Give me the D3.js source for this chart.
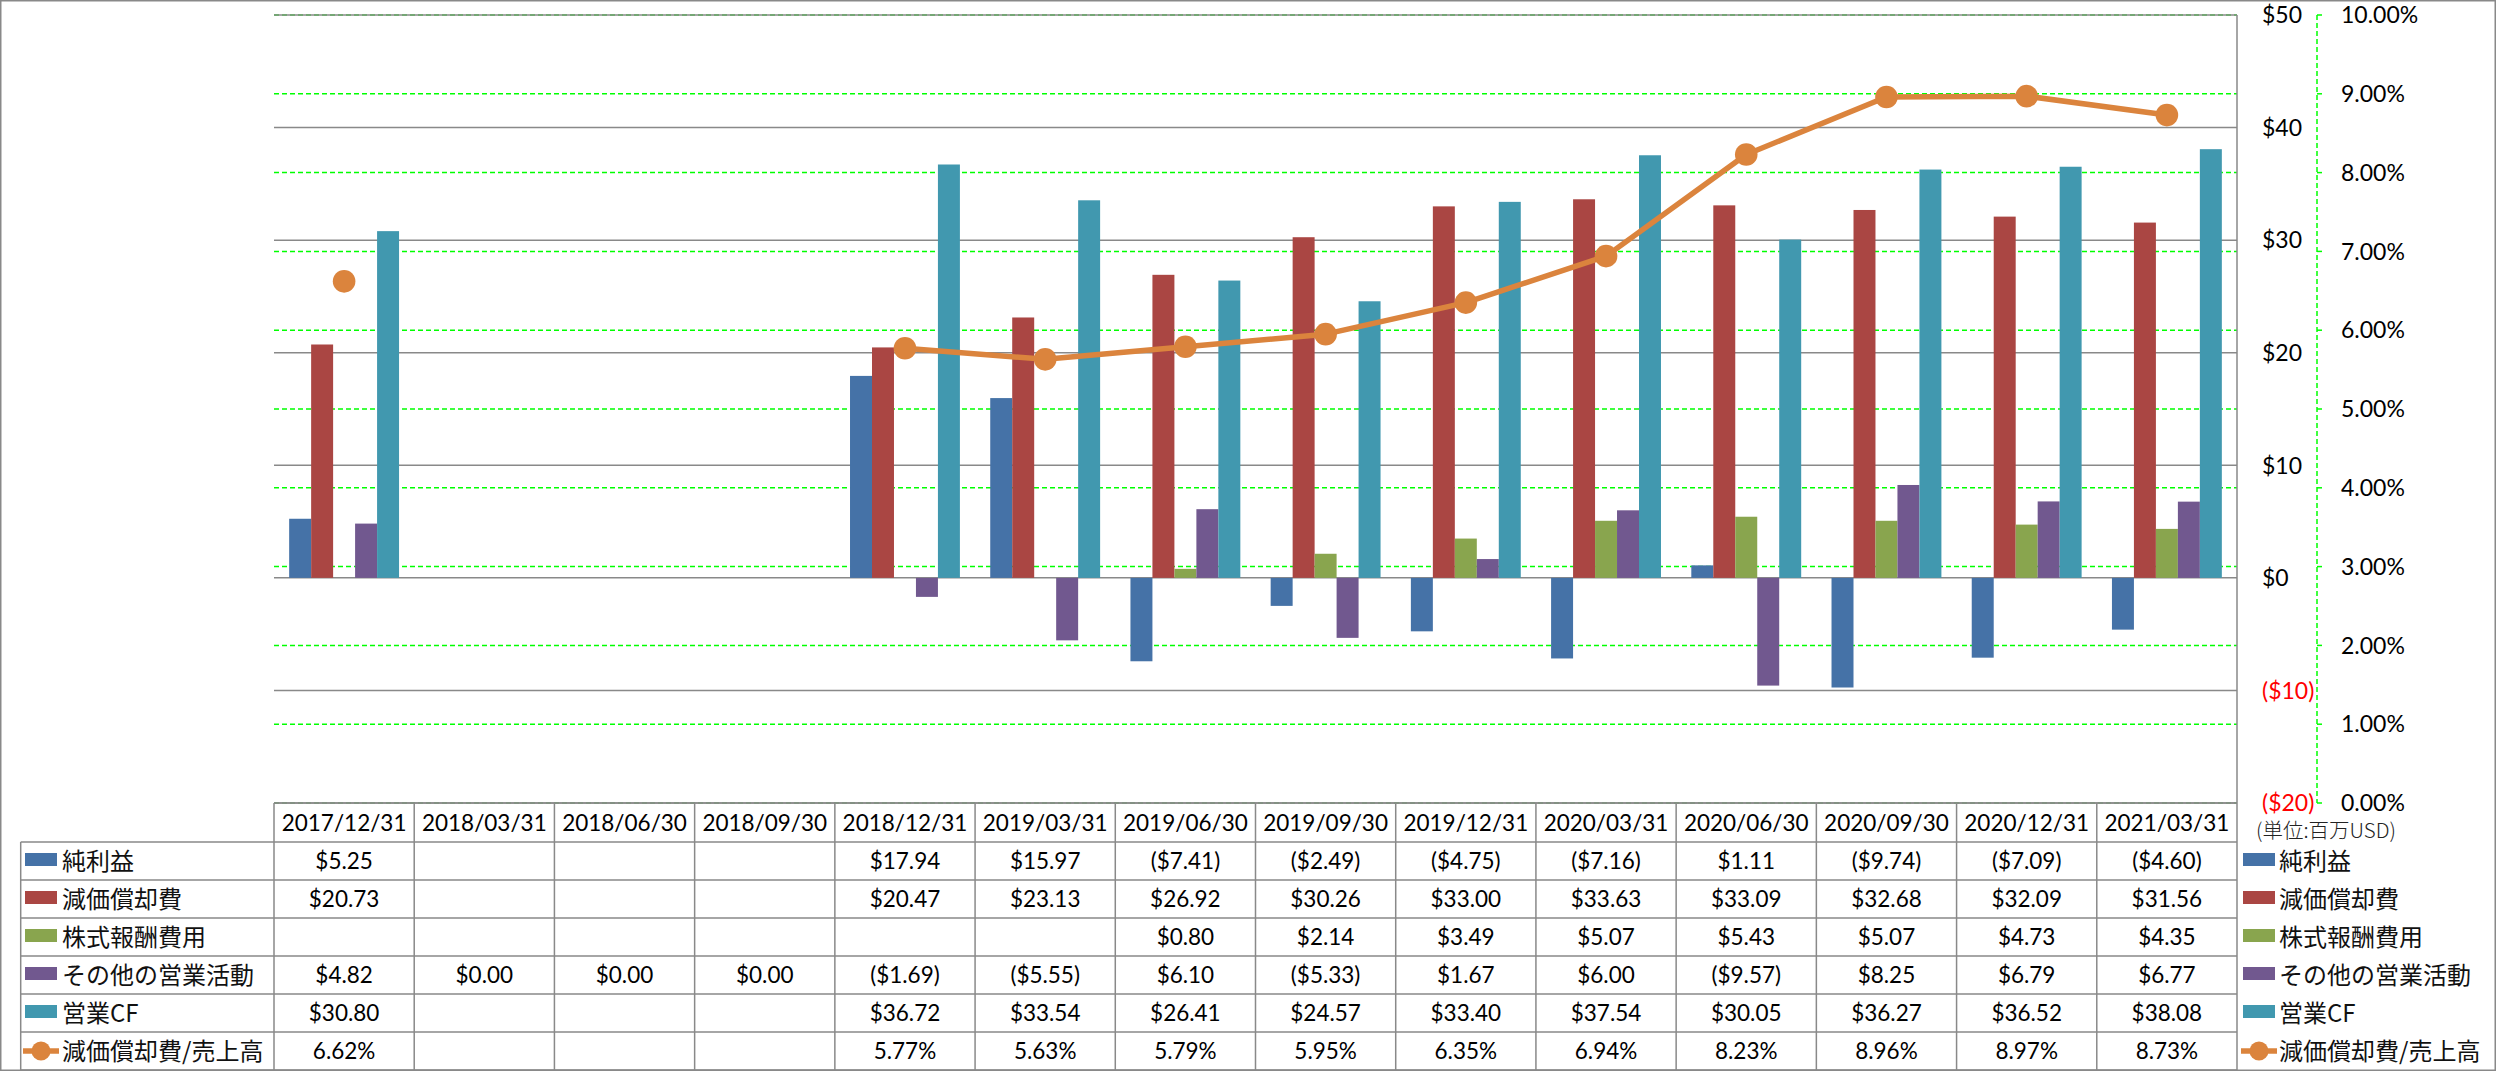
<!DOCTYPE html>
<html><head><meta charset="utf-8">
<script src="https://cdn.jsdelivr.net/npm/d3@7"></script>
<style>
html,body{margin:0;padding:0;background:#fff;}
svg{display:block;}
</style></head><body>
<svg id="chart" width="2496" height="1071"></svg>
<script>
// ---------------- data ----------------
const categories = ["2017/12/31","2018/03/31","2018/06/30","2018/09/30","2018/12/31","2019/03/31","2019/06/30","2019/09/30","2019/12/31","2020/03/31","2020/06/30","2020/09/30","2020/12/31","2021/03/31"];
const seriesNames = ["純利益","減価償却費","株式報酬費用","その他の営業活動","営業CF"];
const netIncome    = [5.25, null, null, null, 17.94, 15.97, -7.41, -2.49, -4.75, -7.16, 1.11, -9.74, -7.09, -4.60];
const depreciation = [20.73, null, null, null, 20.47, 23.13, 26.92, 30.26, 33.00, 33.63, 33.09, 32.68, 32.09, 31.56];
const stockComp    = [null, null, null, null, null, null, 0.80, 2.14, 3.49, 5.07, 5.43, 5.07, 4.73, 4.35];
const otherOps     = [4.82, 0.00, 0.00, 0.00, -1.69, -5.55, 6.10, -5.33, 1.67, 6.00, -9.57, 8.25, 6.79, 6.77];
const operatingCF  = [30.80, null, null, null, 36.72, 33.54, 26.41, 24.57, 33.40, 37.54, 30.05, 36.27, 36.52, 38.08];
const lineName = "減価償却費/売上高";
const depRatio     = [6.62, null, null, null, 5.77, 5.63, 5.79, 5.95, 6.35, 6.94, 8.23, 8.96, 8.97, 8.73];
const dollarTicks  = [50, 40, 30, 20, 10, 0, -10, -20];
const percentTicks = [10, 9, 8, 7, 6, 5, 4, 3, 2, 1, 0];
const unitLabel = "(単位:百万USD)";

const barSeries = [netIncome, depreciation, stockComp, otherOps, operatingCF];
const colors = ["#4572A7", "#AA4643", "#89A54E", "#71588F", "#4198AF"];
const lineColor = "#DB843D";
const gridGray = "#898989";
const numFont = "Lato, 'Liberation Sans', sans-serif";
const jpFont = "'Noto Sans CJK JP', sans-serif";

// ---------------- layout ----------------
const svg = d3.select("#chart");
const plotL = 274, plotR = 2237, plotT = 15, plotB = 803;
const y = d3.scaleLinear().domain([-20, 50]).range([plotB, plotT]);
const yP = d3.scaleLinear().domain([0, 10]).range([plotB, plotT]);
const x0 = d3.scaleBand().domain(categories).range([plotL, plotR]).padding(0);
const x1 = d3.scaleBand().domain(seriesNames).range([0, x0.bandwidth()]).paddingInner(0).paddingOuter(0.69);

svg.append("rect").attr("x", 0).attr("y", 0).attr("width", 2496).attr("height", 1071).attr("fill", "#fff");

// percent gridlines (green dashed)
svg.append("g").selectAll("line").data(percentTicks).join("line")
  .attr("x1", plotL).attr("x2", plotR)
  .attr("y1", d => yP(d)).attr("y2", d => yP(d))
  .attr("stroke", "#00FF00").attr("stroke-width", 1.5).attr("stroke-dasharray", "5,3");

// dollar gridlines (gray solid)
svg.append("g").selectAll("line").data(dollarTicks).join("line")
  .attr("x1", plotL).attr("x2", plotR)
  .attr("y1", d => y(d)).attr("y2", d => y(d))
  .attr("stroke", gridGray).attr("stroke-width", 1.5);

// bars
const barG = svg.append("g");
barSeries.forEach((vals, si) => {
  barG.append("g").selectAll("rect")
    .data(vals.map((v, i) => ({v, c: categories[i]})).filter(d => d.v != null && d.v !== 0))
    .join("rect")
    .attr("x", d => x0(d.c) + x1(seriesNames[si]))
    .attr("width", x1.bandwidth())
    .attr("y", d => y(Math.max(0, d.v)))
    .attr("height", d => Math.abs(y(d.v) - y(0)))
    .attr("fill", colors[si]);
});

// line series
const pts = depRatio.map((v, i) => ({v, c: categories[i]}));
const line = d3.line().defined(d => d.v != null)
  .x(d => x0(d.c) + x0.bandwidth() / 2).y(d => yP(d.v));
svg.append("path").datum(pts).attr("d", line)
  .attr("fill", "none").attr("stroke", lineColor).attr("stroke-width", 5.5).attr("stroke-linejoin", "round");
svg.append("g").selectAll("circle").data(pts.filter(d => d.v != null)).join("circle")
  .attr("cx", d => x0(d.c) + x0.bandwidth() / 2).attr("cy", d => yP(d.v)).attr("r", 11.3)
  .attr("fill", lineColor);

// dollar axis (right side, labels)
svg.append("line").attr("x1", plotR).attr("x2", plotR).attr("y1", plotT).attr("y2", 1070)
  .attr("stroke", gridGray).attr("stroke-width", 1.5);
svg.append("g").selectAll("text").data(dollarTicks).join("text")
  .attr("x", 2262).attr("y", d => y(d)).attr("dy", "0.36em")
  .attr("font-family", numFont).attr("font-size", 23)
  .attr("fill", d => d < 0 ? "#FF0000" : "#000")
  .text(d => d < 0 ? "($" + (-d) + ")" : "$" + d);

// percent axis
const axP = 2317;
svg.append("line").attr("x1", axP).attr("x2", axP).attr("y1", plotT).attr("y2", plotB)
  .attr("stroke", "#00FF00").attr("stroke-width", 1.5).attr("stroke-dasharray", "5,3");
svg.append("g").selectAll("line").data(percentTicks).join("line")
  .attr("x1", axP).attr("x2", axP + 8).attr("y1", d => yP(d)).attr("y2", d => yP(d))
  .attr("stroke", "#00FF00").attr("stroke-width", 1.5).attr("stroke-dasharray", "5,3");
svg.append("g").selectAll("text").data(percentTicks).join("text")
  .attr("x", 2341).attr("y", d => yP(d)).attr("dy", "0.36em")
  .attr("font-family", numFont).attr("font-size", 23).attr("fill", "#000")
  .text(d => d3.format(".2f")(d) + "%");

svg.append("text").attr("x", 2256).attr("y", 831).attr("dy", "0.36em")
  .attr("font-family", jpFont).attr("font-size", 20.5).attr("font-weight", 300).attr("fill", "#222")
  .text(unitLabel);

// ---------------- data table ----------------
const headTop = 803, rowTop = 842, rowH = 38, tableL = 20.7;
const rowYs = d3.range(7).map(i => rowTop + i * rowH);
const tbl = svg.append("g");
// horizontal lines
tbl.append("line").attr("x1", plotL).attr("x2", plotR).attr("y1", headTop).attr("y2", headTop)
  .attr("stroke", gridGray).attr("stroke-width", 1.5);
tbl.selectAll("line.h").data(rowYs).join("line").attr("class", "h")
  .attr("x1", tableL).attr("x2", plotR).attr("y1", d => d).attr("y2", d => d)
  .attr("stroke", gridGray).attr("stroke-width", 1.5);
// vertical lines
tbl.selectAll("line.v").data(categories).join("line").attr("class", "v")
  .attr("x1", d => x0(d)).attr("x2", d => x0(d)).attr("y1", headTop).attr("y2", 1070)
  .attr("stroke", gridGray).attr("stroke-width", 1.5);
tbl.append("line").attr("x1", tableL).attr("x2", tableL).attr("y1", rowTop).attr("y2", 1070)
  .attr("stroke", gridGray).attr("stroke-width", 1.5);

// header
tbl.append("g").selectAll("text").data(categories).join("text")
  .attr("x", d => x0(d) + x0.bandwidth() / 2).attr("y", (headTop + rowTop) / 2).attr("dy", "0.36em")
  .attr("text-anchor", "middle").attr("font-family", numFont).attr("font-size", 22.5).attr("fill", "#000")
  .text(d => d);

const fmtD = v => v == null ? "" : (v < 0 ? "($" + (-v).toFixed(2) + ")" : "$" + v.toFixed(2));
const fmtP = v => v == null ? "" : v.toFixed(2) + "%";
const tableRows = barSeries.map((vals, i) => ({vals, fmt: fmtD})).concat([{vals: depRatio, fmt: fmtP}]);
tableRows.forEach((r, ri) => {
  const cy = rowTop + ri * rowH + rowH / 2;
  tbl.append("g").selectAll("text").data(r.vals.map((v, i) => ({v, c: categories[i]}))).join("text")
    .attr("x", d => x0(d.c) + x0.bandwidth() / 2).attr("y", cy).attr("dy", "0.36em")
    .attr("text-anchor", "middle").attr("font-family", numFont).attr("font-size", 22.5).attr("fill", "#000")
    .text(d => r.fmt(d.v));
});

// legend keys (table left and right)
const legendNames = seriesNames.concat([lineName]);
function drawLegend(g, swX, txtX) {
  legendNames.forEach((name, i) => {
    const cy = rowTop + i * rowH + rowH / 2;
    if (i < 5) {
      g.append("rect").attr("x", swX).attr("y", cy - 8).attr("width", 32).attr("height", 13).attr("fill", colors[i]);
    } else {
      g.append("line").attr("x1", swX - 2).attr("x2", swX + 34).attr("y1", cy).attr("y2", cy)
        .attr("stroke", lineColor).attr("stroke-width", 5.5);
      g.append("circle").attr("cx", swX + 16).attr("cy", cy).attr("r", 9.5).attr("fill", lineColor);
    }
    g.append("text").attr("x", txtX).attr("y", cy).attr("dy", "0.36em")
      .attr("font-family", jpFont).attr("font-size", 24).attr("fill", "#111")
      .text(name);
  });
}
drawLegend(svg.append("g"), 25, 62);
drawLegend(svg.append("g"), 2243, 2279);

// outer border
svg.append("rect").attr("x", 0.75).attr("y", 0.75).attr("width", 2494.5).attr("height", 1069.5)
  .attr("fill", "none").attr("stroke", gridGray).attr("stroke-width", 1.5);
</script>
</body></html>
